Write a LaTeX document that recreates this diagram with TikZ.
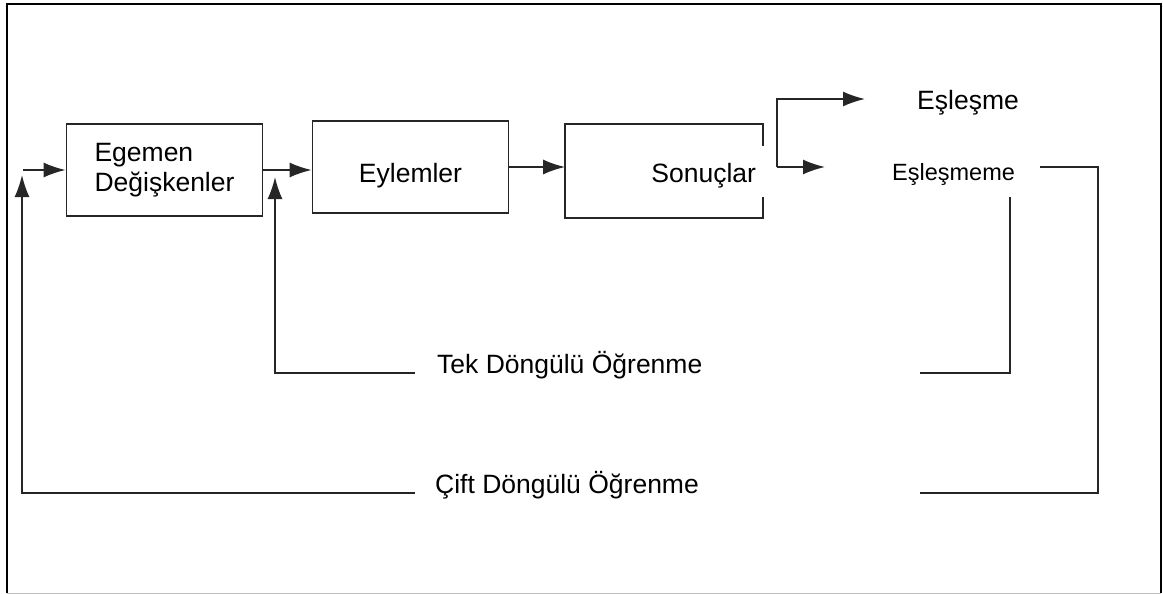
\documentclass[tikz,border=0pt]{standalone}
\usepackage{fontspec}
\setmainfont{Liberation Sans}
\usetikzlibrary{arrows.meta, positioning}

\tikzset{
  line/.style={line width=1.7pt, draw=black!85},
  arrow/.style={line, -{Latex[length=22pt,width=15pt]}},
  box/.style={draw=black!85, line width=1.7pt, inner sep=6pt, minimum width=196pt,
    minimum height=92pt, font=\fontsize{26.5pt}{30pt}\selectfont},
  lbl/.style={inner sep=0pt, anchor=base west, font=\fontsize{26.5pt}{30pt}\selectfont},
}

\begin{document}
\begin{tikzpicture}[x=1pt, y=-1pt]
  \useasboundingbox (0,0) rectangle (1163,594);
  \draw[line width=2.6pt] (7,593) -- (7,4) -- (1161,4) -- (1161,593);
  \draw[line width=1pt, black!25] (7,593) -- (1161,593);

  % boxes
  \node[box, align=left] (gov) at (164.5,170) {Egemen\\Değişkenler};
  \node[box, text height=30pt, text depth=0pt] (act) at (410.5,167) {Eylemler};
  \node[box, draw=none, text width=184pt, align=right, text height=22pt, text depth=0pt]
    (res) at (664,171) {Sonuçlar};
  \draw[line] ([yshift=-22pt]res.north east) -- (res.north east) -- (res.north west)
    -- (res.south west) -- (res.south east) -- ([yshift=21pt]res.south east);

  % outcome and loop labels
  \node[lbl] (match) at (917,110) {Eşleşme};
  \node[lbl, font=\fontsize{23.5pt}{28pt}\selectfont] (nomatch) at (892,180) {Eşleşmeme};
  \node[lbl] (single) at (437,373) {Tek Döngülü Öğrenme};
  \node[lbl] (double) at (435,493) {Çift Döngülü Öğrenme};

  \coordinate (in) at (23,170);
  \coordinate (split) at (777,167);
  \coordinate (tipA) at (275,177);
  \coordinate (tipB) at (22,175);
  \coordinate (cornA) at (1010,197);
  \coordinate (cornB) at (1098,493);

  % forward chain
  \draw[arrow] (in) -- (gov.west);
  \draw[arrow] (gov.east) -- (gov.east -| act.west);
  \draw[arrow] (act.east) -- (act.east -| res.west);
  \draw[arrow] (split) |- ([xshift=-52pt,yshift=11pt]match.base west);
  \draw[arrow] (split) -- ([xshift=-67pt,yshift=13pt]nomatch.base west);

  % feedback loops
  \draw[line] ([xshift=483pt]single.base west) -| (cornA);
  \draw[arrow] ([xshift=-22pt]single.base west) -| (tipA);
  \draw[line] ([xshift=25pt,yshift=13pt]nomatch.base east) -| (cornB)
    -- ([xshift=485pt]double.base west);
  \draw[arrow] ([xshift=-20pt]double.base west) -| (tipB);
\end{tikzpicture}
\end{document}
